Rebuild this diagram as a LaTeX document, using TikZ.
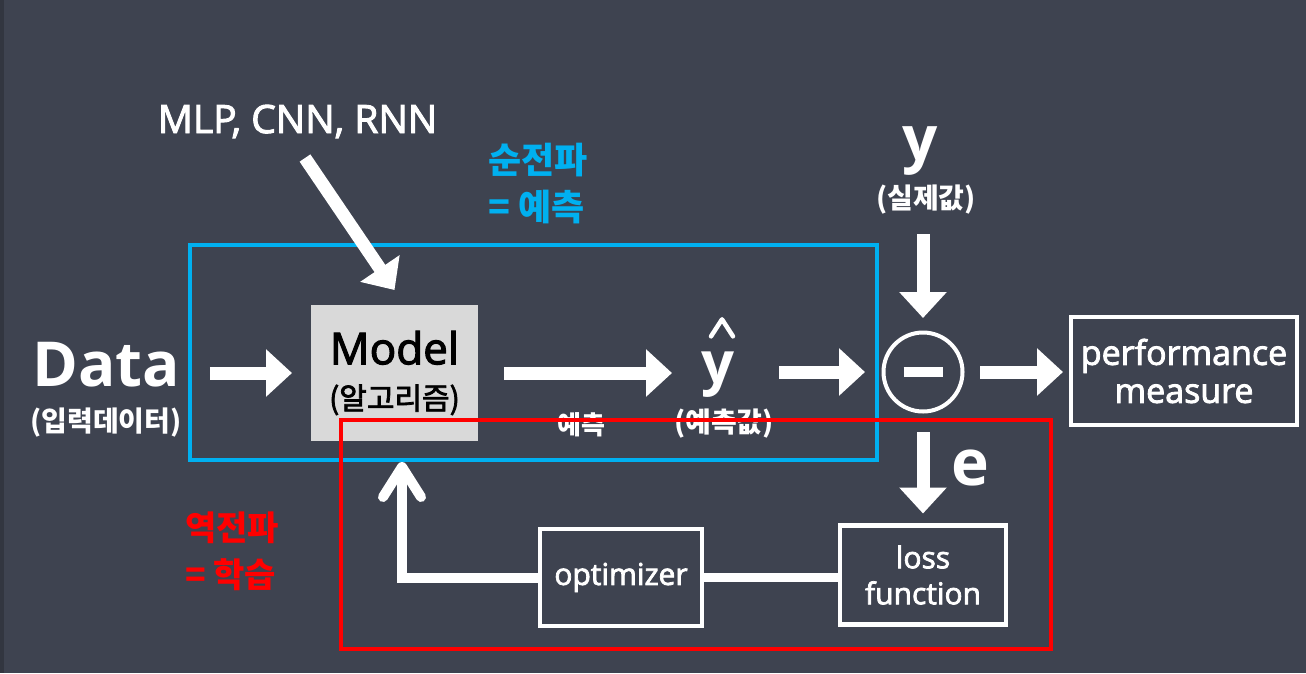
\documentclass[tikz,border=0pt]{standalone}
\usepackage{fontspec}
\setmainfont{Open Sans}
\newfontfamily\med[FakeBold=2.5]{Open Sans}
\newfontfamily\kr{Noto Sans CJK KR}
\newfontfamily\krmed[FakeBold=2.5]{Noto Sans CJK KR}
\usetikzlibrary{arrows.meta}
\newcommand\myfs[1]{\fontsize{#1}{#1}\selectfont}
\definecolor{bgc}{RGB}{62,67,80}
\definecolor{edgec}{RGB}{50,54,64}
\definecolor{skyb}{RGB}{0,176,240}
\definecolor{redc}{RGB}{255,0,0}
\definecolor{grayc}{RGB}{217,217,217}
\begin{document}
\begin{tikzpicture}[x=1pt,y=-1pt,
  txt/.style={inner sep=0pt, outer sep=0pt, text=white},
  fat/.style={draw=white, line width=13pt, -{Triangle[length=26pt,width=46pt]}},
  box/.style={draw=white, line width=4.5pt, inner sep=0pt, outer sep=0pt, text=white, align=center},
  frame/.style={line width=3.5pt}
]
\fill[bgc] (0,0) rectangle (1306,673);
\fill[edgec] (0,0) rectangle (4,673);
\useasboundingbox (0,0) rectangle (1306,673);

% blue frame
\draw[frame, skyb] (190,245) rectangle (877,460);

% texts
\node[txt, anchor=base, font=\med\myfs{39}] (mlp) at (297.5,133) {MLP, CNN, RNN};
\node[txt, anchor=base, font=\myfs{62}\bfseries] (data) at (106,386) {Data};
\node[txt, font=\kr\myfs{28}\bfseries] (datak) at (106,423) {(입력데이터)};

\node[fill=grayc, minimum width=167pt, minimum height=136pt, inner sep=0pt, outer sep=0pt,
      align=center, text=black, font=\med\myfs{44}] (model) at (394.5,373)
      {Model\\[1pt]{\krmed\myfs{30}(알고리즘)}};

\node[txt, anchor=west, align=left, text=skyb, font=\kr\fontsize{36}{47}\selectfont\bfseries] (fwd) at (488,183.5) {순전파\\= 예측};
\node[txt, anchor=west, align=left, text=redc, font=\kr\fontsize{34}{47}\selectfont\bfseries] (bwd) at (185,551) {역전파\\= 학습};

\node[txt, font=\kr\myfs{26}\bfseries] (pred) at (581,425) {예측};
\node[txt, anchor=base, font=\myfs{58}\bfseries] (yhat) at (718,383) {y};
\node[txt, font=\kr\myfs{28}\bfseries] (yhatk) at (724,424) {(예측값)};
\node[txt, anchor=base, font=\myfs{62}\bfseries] (yact) at (920,160) {y};
\node[txt, font=\kr\myfs{28}\bfseries] (yactk) at (926,200) {(실제값)};
\node[txt, anchor=base, font=\myfs{64}\bfseries] (err) at (970,485) {e};

\node[circle, draw=white, line width=4pt, minimum size=79pt, inner sep=0pt, outer sep=0pt] (sub) at (923,372) {};
\node[box, minimum width=226pt, minimum height=108pt, font=\med\fontsize{34}{38}\selectfont] (perf) at (1184,371) {performance\\measure};
\node[box, minimum width=166pt, minimum height=99pt, font=\med\fontsize{30}{36}\selectfont] (loss) at (923,575) {loss\\function};
\node[box, minimum width=162pt, minimum height=97pt, font=\med\myfs{30}] (opt) at (621,577.5) {optimizer};

% hat and minus
\draw[white, line width=4.5pt, line cap=round, line join=round]
  ([shift={(-7pt,15pt)}]yhat.north) -- ([shift={(4pt,32pt)}]yhat.north) -- ([shift={(15pt,15pt)}]yhat.north);
\draw[white, line width=9.5pt] ([xshift=-19.5pt]sub.center) -- ([xshift=19.5pt]sub.center);

% arrows
\draw[fat, shorten <=30pt, shorten >=19pt] (data.east |- model.west) -- (model.west);
\draw[fat] ([xshift=7.5pt,yshift=-20pt]mlp.south) -- ([yshift=15pt]model.north);
\draw[fat, shorten <=26pt, shorten >=29.5pt] (model.east) -- (yhat.west |- model.east);
\draw[fat, shorten <=44.5pt, shorten >=18.5pt] (yhat.east |- sub.west) -- (sub.west);
\draw[fat, shorten <=19.5pt, shorten >=14.5pt] (sub.north |- yactk.south) -- (sub.north);
\draw[fat, shorten <=17.5pt, shorten >=8pt] (sub.east) -- (perf.west |- sub.east);
\draw[fat, shorten <=20.5pt, shorten >=12pt] (sub.south) -- (loss.north);

\draw[white, line width=9pt] (loss.west |- opt.east) -- (opt.east);
\coordinate (fbtip) at (402,462);
\draw[white, line width=10pt, -{Straight Barb[length=30pt,width=38pt,round]}] (opt.west) -| (fbtip);

% red frame
\draw[frame, redc] (341,420) rectangle (1051,649);
\end{tikzpicture}
\end{document}
